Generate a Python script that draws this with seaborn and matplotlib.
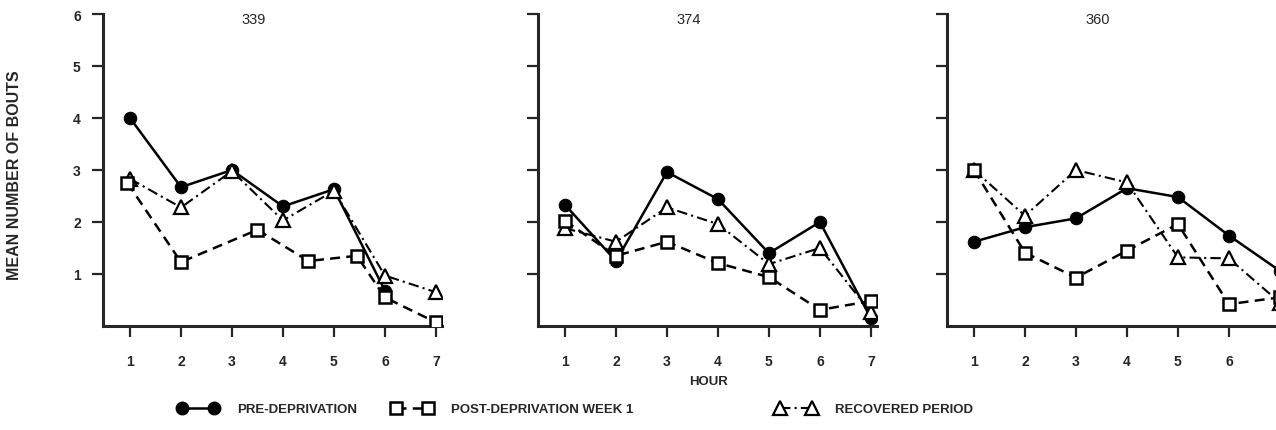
import numpy as np
import pandas as pd
import matplotlib
matplotlib.use("Agg")
import matplotlib.pyplot as plt
import seaborn as sns
from matplotlib.lines import Line2D

# data (mean number of bouts per hour)
hours = [1, 2, 3, 4, 5, 6, 7]
panel_titles = ["339", "374", "360"]

pre_339 = [4.0, 2.67, 3.0, 2.3, 2.63, 0.68, np.nan]
post_339_x = [0.95, 2, 3.5, 4.5, 5.45, 6, 7]
post_339 = [2.75, 1.23, 1.85, 1.25, 1.35, 0.55, 0.07]
rec_339 = [2.83, 2.28, 2.98, 2.03, 2.6, 0.97, 0.65]

pre_374 = [2.33, 1.25, 2.96, 2.44, 1.4, 2.0, 0.15]
post_374 = [2.02, 1.35, 1.62, 1.21, 0.94, 0.31, 0.48]
rec_374 = [1.88, 1.62, 2.28, 1.96, 1.19, 1.5, 0.26]

pre_360 = [1.62, 1.9, 2.07, 2.65, 2.48, 1.74, 1.06]
post_360 = [3.0, 1.41, 0.93, 1.45, 1.96, 0.42, 0.55]
rec_360 = [3.0, 2.12, 3.0, 2.76, 1.32, 1.3, 0.45]

series = [
    (hours, pre_339, post_339_x, post_339, hours, rec_339),
    (hours, pre_374, hours, post_374, hours, rec_374),
    (hours, pre_360, hours, post_360, hours, rec_360),
]

sns.set_style("ticks")
plt.rcParams['font.family'] = ['Liberation Sans', 'DejaVu Sans']
plt.rcParams['font.weight'] = 'bold'

fig = plt.figure(figsize=(12.76, 4.31), dpi=100)
W, H = 1276, 431
lefts = [103, 538, 947]
axes = []
for lx in lefts:
    ax = fig.add_axes([lx / W, (H - 327) / H, 339 / W, 312 / H])
    axes.append(ax)

pre_style = dict(color="black", linewidth=1.8, linestyle="-", marker="o",
                 markersize=9, markerfacecolor="black", markeredgecolor="black")
post_style = dict(color="black", linewidth=1.8, linestyle=(0, (4, 2.5)), marker="s",
                  markersize=8.5, markerfacecolor="white", markeredgecolor="black",
                  markeredgewidth=1.8)
rec_style = dict(color="black", linewidth=1.5, linestyle=(0, (5, 2, 1, 2)), marker="^",
                 markersize=9.5, markerfacecolor="white", markeredgecolor="black",
                 markeredgewidth=1.6)

for i, (ax, (xp, yp, xq, yq, xr, yr)) in enumerate(zip(axes, series)):
    sns.lineplot(x=xp, y=yp, ax=ax, sort=False, zorder=3, **pre_style)
    sns.lineplot(x=xr, y=yr, ax=ax, sort=False, zorder=4, **rec_style)
    sns.lineplot(x=xq, y=yq, ax=ax, sort=False, zorder=5, **post_style)

    ax.set_xlim(0.47, 7.12)
    ax.set_ylim(0, 6)
    ax.set_xticks(hours)
    ax.set_xticklabels([str(h) for h in hours], fontsize=10, fontweight='bold')
    ax.set_yticks([1, 2, 3, 4, 5, 6])
    if i == 0:
        ax.set_yticklabels(["1", "2", "3", "4", "5", "6"], fontsize=10, fontweight='bold')
    else:
        ax.set_yticklabels([])
    ax.tick_params(axis='x', direction='out', length=8, width=1.6, pad=12)
    ax.tick_params(axis='y', direction='out', length=8, width=1.6, pad=8)
    for s in ["top", "right"]:
        ax.spines[s].set_visible(False)
    for s in ["left", "bottom"]:
        ax.spines[s].set_linewidth(2.2)
    ax.set_xlabel("")
    ax.set_ylabel("")
    ax.text(0.445, 0.985, panel_titles[i], transform=ax.transAxes, ha='center', va='center',
            fontsize=10.5, fontweight='normal')
    if ax.get_legend() is not None:
        ax.get_legend().remove()

fig.text(15 / W, 1 - 175 / H, "MEAN NUMBER OF BOUTS", rotation=90, ha='center', va='center',
         fontsize=11.5, fontweight='bold')
fig.text(708 / W, 1 - 382 / H, "HOUR", ha='center', va='center', fontsize=9.5, fontweight='bold')

# legend, three separate entries placed under the panels
entries = [
    (pre_style, "PRE-DEPRIVATION", 178),
    (post_style, "POST-DEPRIVATION WEEK 1", 392),
    (rec_style, "RECOVERED PERIOD", 776),
]
for style, label, xpos in entries:
    h = Line2D([], [], **style)
    fig.legend([h], [label], loc='center left', bbox_to_anchor=(xpos / W, 1 - 410 / H),
               frameon=False, numpoints=2, handlelength=3.0, handletextpad=1.5,
               borderpad=0, borderaxespad=0, prop={'size': 9.5, 'weight': 'bold'})

fig.savefig("out.png", dpi=100)
